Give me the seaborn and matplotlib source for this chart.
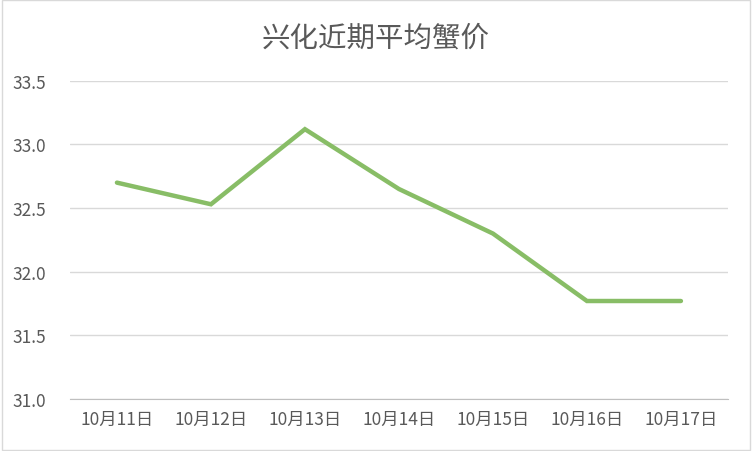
import pandas as pd
import seaborn as sns
import matplotlib.pyplot as plt
import numpy as np

sns.set_style('white')
plt.rcParams['font.family'] = ['Noto Sans CJK SC', 'DejaVu Sans']

dates = ["10月11日", "10月12日", "10月13日", "10月14日", "10月15日", "10月16日", "10月17日"]
prices = [32.70, 32.53, 33.12, 32.65, 32.30, 31.77, 31.77]
yticks = [31.0, 31.5, 32.0, 32.5, 33.0, 33.5]

df = pd.DataFrame({"date": dates, "price": prices})
df["pos"] = np.arange(len(df))

fig = plt.figure(figsize=(7.52, 4.52), dpi=100)
ax = fig.add_axes([0.093, 0.115, 0.875, 0.704])

sns.lineplot(data=df, x="pos", y="price", sort=False, color="#88bd66",
             linewidth=3.2, ax=ax, solid_capstyle="round", solid_joinstyle="miter")

ax.set_xlim(-0.5, len(dates) - 0.5)
ax.set_ylim(31.0, 33.5)
ax.set_yticks(yticks)
ax.set_yticklabels([f"{v:.1f}" for v in yticks])
ax.set_xticks(df["pos"])
ax.set_xticklabels(dates)
ax.set_xticks(np.arange(-0.5, len(dates)), minor=True)
ax.tick_params(axis='x', which='major', length=0, pad=8, labelsize=12.5, colors="#595959")
ax.tick_params(axis='x', which='minor', length=5, color="#bfbfbf", direction='out')
ax.tick_params(axis='y', length=0, pad=17, labelsize=12.5, colors="#595959")
ax.grid(axis='y', color="#d9d9d9", linewidth=1)
ax.set_axisbelow(True)
for s in ["top", "right", "left"]:
    ax.spines[s].set_visible(False)
ax.spines["bottom"].set_color("#bfbfbf")
ax.set_xlabel("")
ax.set_ylabel("")

fig.text(0.5, 0.915, "兴化近期平均蟹价", ha='center', va='center', fontsize=20.5, color="#595959")

# outer frame
fig.patches.append(plt.Rectangle((0.002, 0.002), 0.996, 0.996, transform=fig.transFigure,
                                 fill=False, edgecolor="#d9d9d9", linewidth=1))

fig.savefig("out.png", dpi=100)
